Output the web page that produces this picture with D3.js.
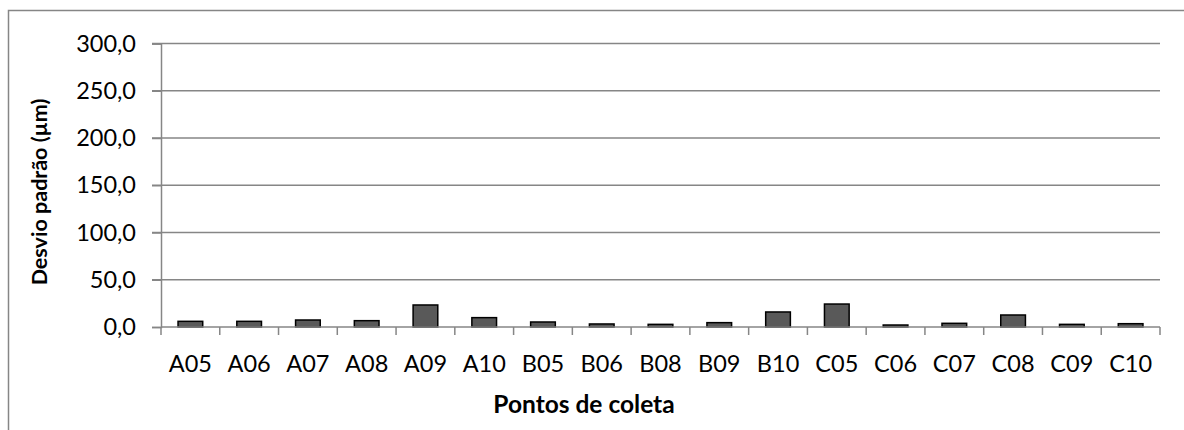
<!DOCTYPE html>
<html><head><meta charset="utf-8">
<script src="https://cdn.jsdelivr.net/npm/d3@7"></script>
<style>body{margin:0;background:#fff}svg{display:block}</style>
</head><body>
<script>
const categories = ["A05","A06","A07","A08","A09","A10","B05","B06","B08","B09","B10","C05","C06","C07","C08","C09","C10"];
const values = [6.0,6.0,7.4,6.7,23.3,9.9,5.3,3.2,2.8,4.6,15.9,24.3,2.1,3.9,12.7,2.8,3.5];
const yTicks = [0,50,100,150,200,250,300];
const yTitle = "Desvio padrão (µm)";
const xTitle = "Pontos de coleta";

const W = 1184, H = 430;
const m = {left:161, right:24, top:43.5, bottom:103};
const svg = d3.select("body").append("svg").attr("width",W).attr("height",H);
const font = "Lato, 'Open Sans', sans-serif";

svg.append("rect").attr("x",8.5).attr("y",10.5).attr("width",W).attr("height",H)
  .attr("fill","none").attr("stroke","#868686").attr("stroke-width",1.5);

const x = d3.scaleBand().domain(categories).range([m.left, W-m.right]).paddingInner(0.58).paddingOuter(0.29);
const xb = d3.scaleBand().domain(categories).range([m.left, W-m.right]);
const y = d3.scaleLinear().domain([0,300]).range([H-m.bottom, m.top]);

// gridlines
svg.append("g").selectAll("line").data(yTicks.filter(d=>d>0)).join("line")
  .attr("x1",m.left-9).attr("x2",W-m.right).attr("y1",d=>y(d)).attr("y2",d=>y(d))
  .attr("stroke","#868686").attr("stroke-width",1.5);

// y axis
const ya = svg.append("g").attr("transform",`translate(${m.left},0)`)
  .call(d3.axisLeft(y).tickValues(yTicks).tickSize(9).tickPadding(16)
    .tickFormat(d=>d3.format(".1f")(d).replace(".",",")));
ya.select(".domain").attr("stroke","#868686").attr("stroke-width",1.5);
ya.selectAll(".tick line").attr("stroke","#868686").attr("stroke-width",1.5);
ya.selectAll("text").attr("font-family",font).attr("font-size",23.5).attr("fill","#000");

// bars
svg.append("g").selectAll("rect").data(values).join("rect")
  .attr("x",(d,i)=>x(categories[i])).attr("width",x.bandwidth())
  .attr("y",d=>y(d)).attr("height",d=>y(0)-y(d))
  .attr("fill","#595959").attr("stroke","#000").attr("stroke-width",1.5);

// x axis
const xa = svg.append("g").attr("transform",`translate(0,${y(0)})`)
  .call(d3.axisBottom(xb).tickSize(0));
xa.select(".domain").remove();
xa.selectAll("text").attr("font-family",font).attr("font-size",23.5).attr("fill","#000")
  .attr("y", 372 - y(0)).attr("dy","0");
svg.append("line").attr("x1",m.left).attr("x2",W-m.right).attr("y1",y(0)).attr("y2",y(0))
  .attr("stroke","#868686").attr("stroke-width",1.5);
const bounds = categories.map(c=>xb(c)).concat([W-m.right]);
svg.append("g").selectAll("line").data(bounds).join("line")
  .attr("x1",d=>d).attr("x2",d=>d).attr("y1",y(0)).attr("y2",y(0)+8)
  .attr("stroke","#868686").attr("stroke-width",1.5);

// titles
svg.append("text").attr("x",584).attr("y",413)
  .attr("text-anchor","middle").attr("font-family",font).attr("font-weight","bold")
  .attr("font-size",24.5).text(xTitle);
svg.append("text").attr("transform",`translate(47,192) rotate(-90)`)
  .attr("text-anchor","middle").attr("font-family",font).attr("font-weight","bold")
  .attr("font-size",21.5).text(yTitle);
</script>
</body></html>
